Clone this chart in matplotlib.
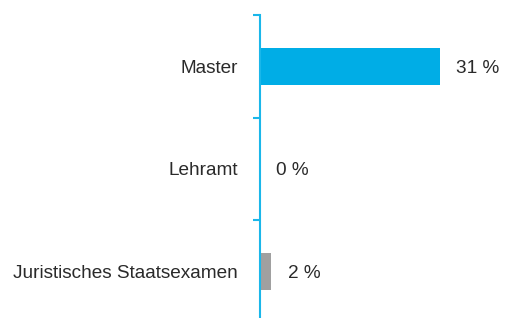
import matplotlib
matplotlib.use("Agg")
import matplotlib.pyplot as plt

categories = ["Master", "Lehramt", "Juristisches Staatsexamen"]
values = [31, 0, 2]
value_labels = ["31 %", "0 %", "2 %"]
colors = ["#00ade6", "#00ade6", "#a0a0a0"]

plt.rcParams['font.family'] = ['Liberation Sans', 'DejaVu Sans']

W, H = 505, 318
fig = plt.figure(figsize=(W / 100, H / 100), dpi=100)
x0 = 259.5
top = 15
ax = fig.add_axes([x0 / W, 0, (W - x0) / W, (H - top) / H])
pxu = (440 - x0) / 31
ax.set_xlim(0, (W - x0) / pxu)
spacing = 102.5
bottom_val = -0.5 + (H - top) / spacing
ax.set_ylim(bottom_val, -0.5)

ypos = list(range(len(categories)))
ax.barh(ypos, values, height=0.36, color=colors)

fs = 13.7
for y, v, lab in zip(ypos, values, value_labels):
    ax.text(v + 16.5 / pxu, y, lab, va="center_baseline", ha="left", fontsize=fs, color="#2a2a2a")

for s in ["top", "right", "bottom"]:
    ax.spines[s].set_visible(False)
ax.spines["left"].set_color("#1ab7ea")
ax.spines["left"].set_linewidth(1.5)
ax.set_xticks([])
ax.set_yticks([-0.5, 0.5, 1.5])
ax.set_yticklabels([])
ax.tick_params(axis="y", direction="out", length=5, width=1.5, color="#1ab7ea")

for y, c in zip(ypos, categories):
    ax.text(-22 / pxu, y, c, va="center_baseline", ha="right", fontsize=fs, color="#2a2a2a", clip_on=False)

fig.savefig("out.png", dpi=100)
